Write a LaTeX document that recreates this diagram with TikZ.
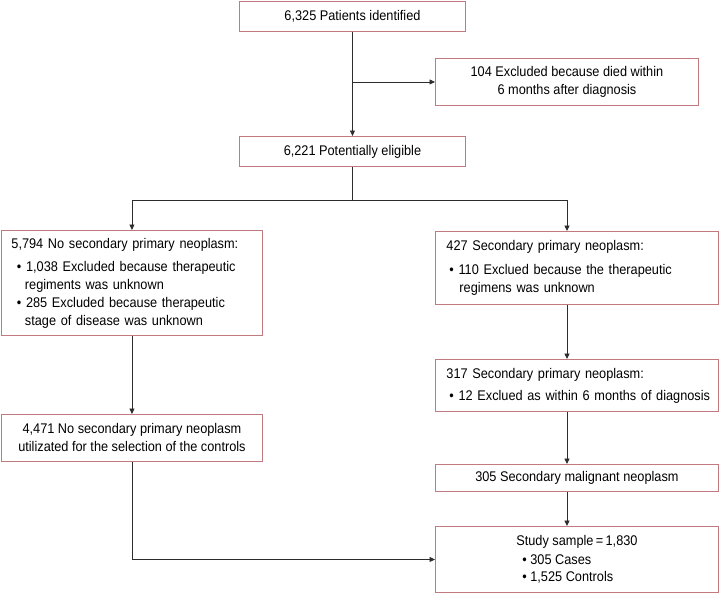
\documentclass[tikz,border=0pt]{standalone}
\usepackage{fontspec}
\setmainfont[FakeStretch=0.91]{Liberation Sans}
\usetikzlibrary{arrows.meta,calc}
\definecolor{boxred}{RGB}{192,122,128}
\definecolor{lin}{RGB}{45,45,45}
\hyphenpenalty=10000
\exhyphenpenalty=10000
\begin{document}
\begin{tikzpicture}[x=1pt,y=-1pt,
  box/.style={draw=boxred, line width=0.9pt, rectangle, inner sep=0pt, anchor=north west,
    font=\fontsize{14}{18}\selectfont},
  lbox/.style={box, text width=#1, inner xsep=5.5pt, align=left},
  arr/.style={draw=lin, line width=0.9pt, -{Triangle[length=5.5pt,width=5pt]}},
  ln/.style={draw=lin, line width=0.9pt}]
\useasboundingbox (0,0) rectangle (719,595);

\node[box, minimum width=226pt, minimum height=30pt] (n1) at (239,1) {6,325 Patients identified};
\node[box, minimum width=263pt, minimum height=47pt, align=center] (ex) at (435,58)
  {104 Excluded because died within\\6 months after diagnosis};
\node[box, minimum width=226pt, minimum height=30pt] (n3) at (239,136) {6,221 Potentially eligible};

\node[lbox=250pt, minimum height=105pt] (A) at (1,230)
  {\hspace*{4.5pt}5,794 No secondary primary neoplasm:\\[5pt]
   \hspace*{10pt}\textbullet\ 1,038 Excluded because therapeutic\\
   \hspace*{18pt}regiments was unknown\\
   \hspace*{10pt}\textbullet\ 285 Excluded because therapeutic\\
   \hspace*{18pt}stage of disease was unknown};
\node[box, minimum width=261pt, minimum height=47pt, align=center] (C) at (1,414)
  {4,471 No secondary primary neoplasm\\utilizated for the selection of the controls};

\node[lbox=272pt, minimum height=73pt] (B) at (435,231)
  {\hspace*{5.5pt}427 Secondary primary neoplasm:\\[6pt]
   \hspace*{8.5pt}\textbullet\ 110 Exclued because the therapeutic\\
   \hspace*{18.5pt}regimens was unknown};
\node[lbox=272pt, minimum height=52pt] (D) at (435,359)
  {\hspace*{5.5pt}317 Secondary primary neoplasm:\\[4pt]
   \hspace*{8.5pt}\textbullet\ 12 Exclued as within 6 months of diagnosis};
\node[box, minimum width=283pt, minimum height=27pt] (E) at (435,464) {305 Secondary malignant neoplasm};
\node[box, minimum width=283pt, minimum height=66pt, align=left] (F) at (435,526)
  {Study sample\,=\,1,830\\[1pt]
   \hspace*{6pt}\textbullet\ 305 Cases\\[-1pt]
   \hspace*{6pt}\textbullet\ 1,525 Controls};

\coordinate (rx) at (567,0);
\coordinate (sp) at (n3.south |- 0,200);
\coordinate (br) at (n1.south |- ex.west);

\draw[arr] (n1.south) -- (n3.north);
\draw[arr] (br) -- (ex.west);
\draw[arr] (n3.south) -- (sp) -| (A.north);
\draw[arr] (sp) -| (rx |- B.north);
\draw[arr] (A.south) -- (C.north);
\draw[arr] (rx |- B.south) -- (rx |- D.north);
\draw[arr] (rx |- D.south) -- (rx |- E.north);
\draw[arr] (rx |- E.south) -- (rx |- F.north);
\draw[arr] (C.south) |- (F.west);
\end{tikzpicture}
\end{document}
